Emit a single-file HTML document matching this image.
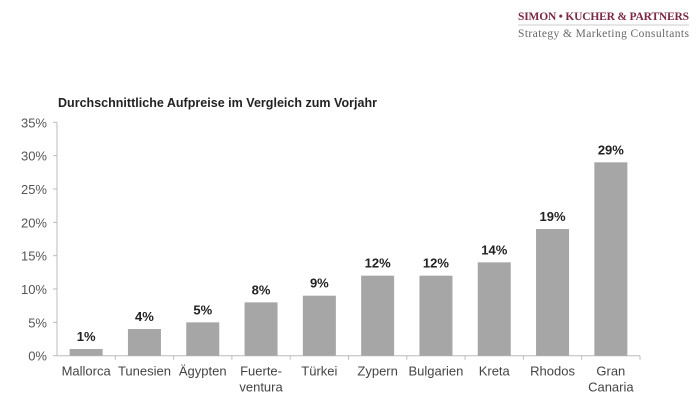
<!DOCTYPE html>
<html><head><meta charset="utf-8"><style>
body{margin:0;background:#fff;width:700px;height:418px;overflow:hidden;font-family:"Liberation Sans",sans-serif}
svg{display:block}
</style></head><body>
<svg width="700" height="418">
<text x="518" y="20" font-family="Liberation Serif" font-weight="bold" font-size="11.5" fill="#7b2945" textLength="171">SIMON • KUCHER &amp; PARTNERS</text>
<line x1="518" y1="25" x2="689" y2="25" stroke="#ccc" stroke-width="1"/>
<text x="518" y="37" font-family="Liberation Serif" font-size="11.5" fill="#666" textLength="171">Strategy &amp; Marketing Consultants</text>
<text x="58" y="107" font-weight="bold" font-size="12.5" fill="#222" textLength="319">Durchschnittliche Aufpreise im Vergleich zum Vorjahr</text>
<g id="plot"></g>
</svg>
<script>
const categories=[["Mallorca"],["Tunesien"],["Ägypten"],["Fuerte-","ventura"],["Türkei"],["Zypern"],["Bulgarien"],["Kreta"],["Rhodos"],["Gran","Canaria"]];
const values=[1,4,5,8,9,12,12,14,19,29];
const ticks=[0,5,10,15,20,25,30,35];
const NS="http://www.w3.org/2000/svg";
const g=document.getElementById('plot');
const x0=57,band=58.3,y0=355.7,yTop=122.3,maxV=35;
const y=v=>y0-(v/maxV)*(y0-yTop);
function el(t,a,txt){const e=document.createElementNS(NS,t);for(const k in a)e.setAttribute(k,a[k]);if(txt!==undefined)e.textContent=txt;g.appendChild(e);return e;}
let ax=el('line',{x1:x0,y1:y(0),x2:x0,y2:y(35),stroke:'#bbb'});


ticks.forEach(t=>{
 let l=el('line',{x1:x0-4,y1:y(t),x2:x0,y2:y(t),stroke:'#bbb'});
 
 
 let tx=el('text',{x:x0-10,y:y(t)+5,'text-anchor':'end','font-size':13,fill:'#555'},t+'%');
 
 
});
let xa=el('line',{x1:x0,y1:y0,x2:x0+band*categories.length,y2:y0,stroke:'#bbb'});


categories.forEach((c,i)=>{
 const cx=x0+band*(i+0.5);
 let s=el('line',{x1:x0+band*(i+1),y1:y0,x2:x0+band*(i+1),y2:y0+4,stroke:'#bbb'});
 
 
 let b=el('rect',{x:cx-16.5,y:y(values[i]),width:33,height:y0-y(values[i]),fill:'#a6a6a6'});
 
 
 let v=el('text',{x:cx,y:y(values[i])-8,'text-anchor':'middle','font-size':13,'font-weight':'bold',fill:'#222'},values[i]+'%');
 
 
 c.forEach((line,j)=>{
  let t=el('text',{x:cx,y:y0+20+j*16,'text-anchor':'middle','font-size':13,fill:'#444'},line);
  
  
 });
});
</script>
</body></html>
